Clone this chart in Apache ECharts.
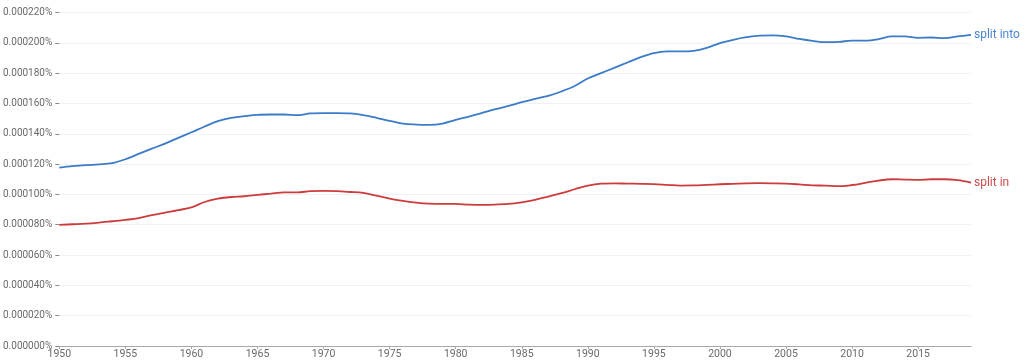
<!DOCTYPE html>
<html>
<head>
<meta charset="utf-8">
<script src="https://cdn.jsdelivr.net/npm/echarts@6/dist/echarts.min.js"></script>
<style>
html,body{margin:0;padding:0;background:#fff;}
#chart{width:1024px;height:362px;}
</style>
</head>
<body>
<div id="chart"></div>
<script>
const years = [
  '1950','1951','1952','1953','1954','1955','1956','1957','1958','1959',
  '1960','1961','1962','1963','1964','1965','1966','1967','1968','1969',
  '1970','1971','1972','1973','1974','1975','1976','1977','1978','1979',
  '1980','1981','1982','1983','1984','1985','1986','1987','1988','1989',
  '1990','1991','1992','1993','1994','1995','1996','1997','1998','1999',
  '2000','2001','2002','2003','2004','2005','2006','2007','2008','2009',
  '2010','2011','2012','2013','2014','2015','2016','2017','2018','2019'
];
// values in percent
const splitInto = [
  0.0001177,0.0001186,0.0001193,0.0001198,0.0001206,0.0001232,0.0001267,0.0001302,0.0001335,0.0001373,
  0.0001410,0.0001448,0.0001483,0.0001505,0.0001516,0.0001525,0.0001527,0.0001527,0.0001523,0.0001534,
  0.0001536,0.0001536,0.0001534,0.0001523,0.0001505,0.0001485,0.0001467,0.0001461,0.0001459,0.0001467,
  0.0001492,0.0001513,0.0001538,0.0001562,0.0001584,0.0001608,0.0001630,0.0001650,0.0001679,0.0001715,
  0.0001765,0.0001800,0.0001835,0.0001870,0.0001905,0.0001932,0.0001943,0.0001943,0.0001947,0.0001967,
  0.0001998,0.0002020,0.0002037,0.0002048,0.0002049,0.0002042,0.0002026,0.0002013,0.0002004,0.0002006,
  0.0002015,0.0002015,0.0002024,0.0002042,0.0002042,0.0002033,0.0002035,0.0002031,0.0002042,0.0002053
];
const splitIn = [
  0.0000799,0.0000803,0.0000807,0.0000814,0.0000823,0.0000832,0.0000843,0.0000863,0.0000880,0.0000896,
  0.0000915,0.0000950,0.0000972,0.0000983,0.0000988,0.0000997,0.0001005,0.0001014,0.0001014,0.0001021,
  0.0001023,0.0001021,0.0001016,0.0001010,0.0000992,0.0000972,0.0000957,0.0000946,0.0000939,0.0000937,
  0.0000937,0.0000933,0.0000931,0.0000933,0.0000937,0.0000948,0.0000964,0.0000986,0.0001008,0.0001034,
  0.0001058,0.0001071,0.0001073,0.0001071,0.0001070,0.0001068,0.0001063,0.0001058,0.0001059,0.0001063,
  0.0001067,0.0001070,0.0001073,0.0001074,0.0001073,0.0001071,0.0001066,0.0001060,0.0001058,0.0001054,
  0.0001062,0.0001076,0.0001091,0.0001100,0.0001098,0.0001096,0.0001100,0.0001100,0.0001094,0.0001078
];
const seriesNames = ['split into', 'split in'];
const lineColors = ['#3b7bc8', '#cd3c3c'];
const labelColors = ['#4a86cc', '#cc4a4a'];

const chart = echarts.init(document.getElementById('chart'), null, {renderer: 'canvas'});
const font = 'Roboto, "Noto Sans", sans-serif';
chart.setOption({
  animation: false,
  backgroundColor: '#ffffff',
  grid: {left: 58, right: 53, top: 12.5, bottom: 16, containLabel: false},
  xAxis: {
    type: 'category',
    data: years,
    boundaryGap: false,
    axisLine: {show: true, lineStyle: {color: '#a8a8a8', width: 1}},
    axisTick: {show: true, interval: 4, length: 3, lineStyle: {color: '#a8a8a8'}},
    axisLabel: {interval: 4, color: '#6a6a6a', fontSize: 10.5, fontFamily: font, margin: 3},
    splitLine: {show: false}
  },
  yAxis: {
    type: 'value',
    min: 0,
    max: 0.00022,
    interval: 0.00002,
    axisLine: {show: false},
    axisTick: {show: true, length: 4, lineStyle: {color: '#888888'}},
    axisLabel: {
      color: '#6a6a6a', fontSize: 10, fontFamily: font, margin: 7,
      formatter: v => v.toFixed(6) + '%'
    },
    splitLine: {show: true, lineStyle: {color: '#f1f1f1', width: 1}}
  },
  series: [
    {
      name: seriesNames[0], type: 'line', data: splitInto, smooth: 0.35,
      symbol: 'none', lineStyle: {color: lineColors[0], width: 1.8},
      itemStyle: {color: lineColors[0]},
      endLabel: {show: true, formatter: '{a}', color: labelColors[0], fontSize: 12, fontFamily: font, distance: 3}
    },
    {
      name: seriesNames[1], type: 'line', data: splitIn, smooth: 0.35,
      symbol: 'none', lineStyle: {color: lineColors[1], width: 1.8},
      itemStyle: {color: lineColors[1]},
      endLabel: {show: true, formatter: '{a}', color: labelColors[1], fontSize: 12, fontFamily: font, distance: 3}
    }
  ]
});
</script>
</body>
</html>
